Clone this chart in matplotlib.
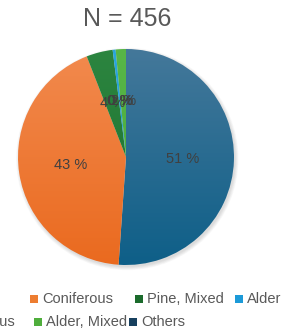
import numpy as np
import matplotlib.pyplot as plt
from matplotlib.colors import LinearSegmentedColormap
from matplotlib.patches import Circle, Rectangle

plt.rcParams['font.family'] = ['Liberation Sans', 'DejaVu Sans']

# data, clockwise from 12 o'clock
categories = ["Others", "Coniferous", "Pine, Mixed", "Alder", "Deciduous", "Alder, Mixed"]
counts = [233, 196, 18, 2, 0, 7]
title = "N = " + str(sum(counts))

# slice gradient colours (top, bottom) and legend swatch colours
top_colors = ["#44789a", "#f28a4e", "#2c8540", "#2aa6de", "#a5a5a5", "#58b648"]
bottom_colors = ["#0e5f88", "#ea6a1f", "#1b6f2c", "#1592d0", "#8c8c8c", "#45a836"]
legend_colors = {"Coniferous": "#ed7d31", "Pine, Mixed": "#1b6b2c", "Alder": "#1c9ad8",
                 "Deciduous": "#8fbf5a", "Alder, Mixed": "#4fae3c", "Others": "#17405e"}

# legend layout: (label, square left px, row centre px)
legend_layout = [("Coniferous", 30, 299), ("Pine, Mixed", 135, 299), ("Alder", 235, 299),
                 ("Deciduous", -66, 322), ("Alder, Mixed", 34, 322), ("Others", 129, 322)]

W, H = 285, 333
fig = plt.figure(figsize=(W / 100, H / 100), dpi=100)

#pie centre (126,157) px, radius 108 px
cx, cy, R, half = 126, 157, 108, 120
ax = fig.add_axes([(cx - half) / W, (H - cy - half) / H, 2 * half / W, 2 * half / H])
lim = half / R

wedges, texts, autotexts = ax.pie(counts, startangle=90, counterclock=False, radius=1,
                                  autopct=lambda p: f"{p:.0f} %", pctdistance=0.52,
                                  wedgeprops=dict(linewidth=0),
                                  textprops=dict(color="#404040", fontsize=10.5))

#soft shadow
for k in range(6):
    ax.add_patch(Circle((0.012, -0.018), 1 + 0.006 * k, color="black", alpha=0.025, lw=0, zorder=0.5))

grad = np.linspace(0, 1, 256).reshape(-1, 1)
for w, c_top, c_bot in zip(wedges, top_colors, bottom_colors):
    w.set_facecolor("none")
    cmap = LinearSegmentedColormap.from_list("g", [c_bot, c_top])
    im = ax.imshow(grad, extent=[-1, 1, -1, 1], origin="lower", cmap=cmap, aspect="auto", zorder=1.5)
    im.set_clip_path(w)

for t in autotexts:
    t.set_zorder(3)

ax.set_xlim(-lim, lim)
ax.set_ylim(-lim, lim)
ax.axis("off")

fig.text(127 / W, 1 - 19 / H, title, ha="center", va="center", fontsize=18, color="#595959")

#legend
for label, sx, ry in legend_layout:
    fig.patches.append(Rectangle((sx / W, 1 - (ry + 4) / H), 8 / W, 8 / H,
                                 transform=fig.transFigure, color=legend_colors[label], lw=0))
    fig.text((sx + 12) / W, 1 - ry / H, label, ha="left", va="center", fontsize=10.5, color="#595959")

fig.savefig("out.png", dpi=100)
